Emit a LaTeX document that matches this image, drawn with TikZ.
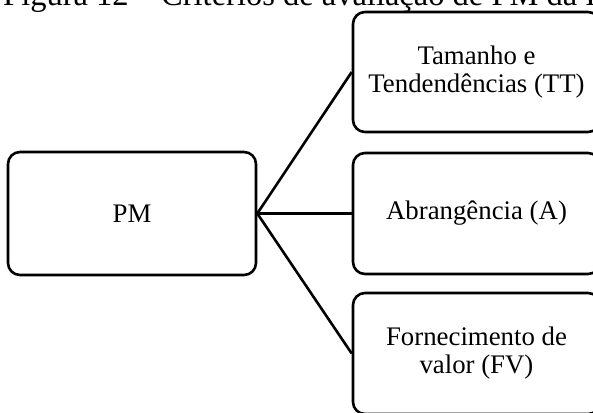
\documentclass[tikz,border=0pt]{standalone}
\usepackage{fontspec}
\setmainfont{Liberation Serif}
\begin{document}
\begin{tikzpicture}[x=1pt,y=-1pt,
  box/.style={draw, line width=2.6pt, rounded corners=12pt, align=center,
    inner sep=0pt, font=\fontsize{26.8}{28}\selectfont},
  link/.style={line width=2.6pt}]
\useasboundingbox (0,0) rectangle (593,412);
\clip (0,0) rectangle (593,412);
% caption, partly cut off by the top edge
\node[anchor=base west, inner sep=0pt, font=\fontsize{32.5}{34}\selectfont] (title) at (3,5.5)
  {Figura 12 -- Critérios de avaliação de PM da P};
% boxes
\node[box, minimum width=248pt, minimum height=123pt] (pm) at (132,213.5) {PM};
\node[box, minimum width=247pt, minimum height=120pt] (tt) at (476.5,72) {Tamanho e\\Tendendências (TT)};
\node[box, minimum width=247pt, minimum height=121pt] (ab) at (476.5,213.5) {Abrangência (A)};
\node[box, minimum width=247pt, minimum height=121pt] (fv) at (476.5,353.5) {Fornecimento de\\valor (FV)};
% connectors
\draw[link] (pm.east) -- (tt.west);
\draw[link] (pm.east) -- (ab.west);
\draw[link] (pm.east) -- (fv.west);
\end{tikzpicture}
\end{document}
